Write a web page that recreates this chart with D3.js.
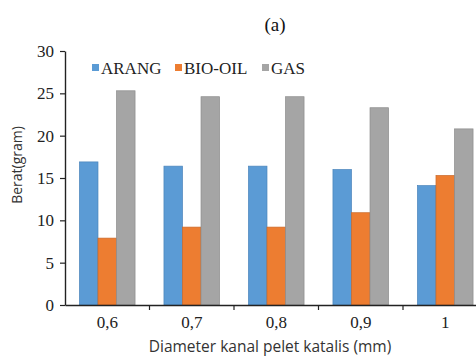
<!DOCTYPE html>
<html>
<head>
<meta charset="utf-8">
<script src="https://cdn.jsdelivr.net/npm/d3@7"></script>
<style>
  body { margin: 0; background: #fff; }
  svg { display: block; }
</style>
</head>
<body>
<script>
const categories = ["0,6", "0,7", "0,8", "0,9", "1"];
const seriesNames = ["ARANG", "BIO-OIL", "GAS"];
const arang = [16.9, 16.4, 16.4, 16.0, 14.1];
const bioOil = [7.9, 9.2, 9.2, 10.9, 15.3];
const gas = [25.3, 24.6, 24.6, 23.3, 20.8];
const yTicks = [0, 5, 10, 15, 20, 25, 30];

const colors = { "ARANG": "#5b9bd5", "BIO-OIL": "#ed7d31", "GAS": "#a5a5a5" };
const strokes = { "ARANG": "#4a84bb", "BIO-OIL": "#c9692a", "GAS": "#8c8c8c" };

const dims = { w: 476, h: 356, left: 65, right: 487.5, top: 51, bottom: 305 };

const svg = d3.select("body")
  .append("svg")
  .attr("width", dims.w)
  .attr("height", dims.h);

const rows = categories.map((c, i) => ({ cat: c, "ARANG": arang[i], "BIO-OIL": bioOil[i], "GAS": gas[i] }));

const x0 = d3.scaleBand().domain(categories).range([dims.left, dims.right]).padding(0);
const x1 = d3.scaleBand().domain(seriesNames).range([0, x0.bandwidth()])
  .paddingInner(0).paddingOuter(0.78);
const y = d3.scaleLinear().domain([0, 30]).range([dims.bottom, dims.top]);

// bars
svg.append("g")
  .selectAll("g")
  .data(rows)
  .enter()
  .append("g")
  .attr("transform", d => `translate(${x0(d.cat)},0)`)
  .selectAll("rect")
  .data(d => seriesNames.map(s => ({ s: s, v: d[s] })))
  .enter()
  .append("rect")
  .attr("x", d => x1(d.s))
  .attr("width", x1.bandwidth())
  .attr("y", d => y(d.v))
  .attr("height", d => y(0) - y(d.v))
  .attr("fill", d => colors[d.s])
  .attr("stroke", d => strokes[d.s])
  .attr("stroke-width", 0.7);

// y axis
const yAxis = svg.append("g")
  .attr("transform", `translate(${dims.left},0)`)
  .call(d3.axisLeft(y).tickValues(yTicks).tickSize(5).tickPadding(6).tickSizeOuter(0));
yAxis.select(".domain").attr("stroke", "#222").attr("stroke-width", 1.4);
yAxis.selectAll(".tick line").attr("stroke", "#222").attr("stroke-width", 1.2);
yAxis.selectAll("text")
  .style("font-family", "'Liberation Serif', 'Times New Roman', serif")
  .attr("font-size", 17)
  .attr("fill", "#222");

// x axis
const xAxis = svg.append("g")
  .attr("transform", `translate(0,${dims.bottom})`)
  .call(d3.axisBottom(x0).tickSize(0).tickPadding(11).tickSizeOuter(0));
xAxis.select(".domain").attr("stroke", "#222").attr("stroke-width", 1.4);
xAxis.selectAll("text")
  .style("font-family", "'Liberation Serif', 'Times New Roman', serif")
  .attr("font-size", 17)
  .attr("fill", "#222");

// tick marks between categories
svg.append("g")
  .selectAll("line")
  .data(categories.slice(1))
  .enter()
  .append("line")
  .attr("x1", d => x0(d))
  .attr("x2", d => x0(d))
  .attr("y1", dims.bottom)
  .attr("y2", dims.bottom + 5)
  .attr("stroke", "#222")
  .attr("stroke-width", 1.2);

// title
svg.append("text")
  .text("(a)")
  .attr("x", 275)
  .attr("y", 31)
  .attr("text-anchor", "middle")
  .style("font-family", "'Liberation Serif', 'Times New Roman', serif")
  .attr("font-size", 19)
  .attr("fill", "#111");

// legend
const legendX = [92, 175, 262];
const legend = svg.append("g").attr("transform", "translate(0,68)");
const li = legend.selectAll("g")
  .data(seriesNames)
  .enter()
  .append("g")
  .attr("transform", (d, i) => `translate(${legendX[i]},0)`);
li.append("rect")
  .attr("x", 0)
  .attr("y", -4)
  .attr("width", 7)
  .attr("height", 7)
  .attr("fill", d => colors[d]);
li.append("text")
  .text(d => d)
  .attr("x", 9)
  .attr("y", 5.5)
  .style("font-family", "'Liberation Serif', 'Times New Roman', serif")
  .attr("font-size", 17)
  .attr("fill", "#222");

// axis titles
svg.append("text")
  .text("Berat(gram)")
  .attr("transform", "translate(22,165) rotate(-90)")
  .attr("text-anchor", "middle")
  .style("font-family", "'Open Sans', sans-serif")
  .attr("font-size", 14)
  .attr("fill", "#333");

svg.append("text")
  .text("Diameter kanal pelet katalis (mm)")
  .attr("x", 270)
  .attr("y", 352)
  .attr("text-anchor", "middle")
  .style("font-family", "'Open Sans', sans-serif")
  .attr("font-size", 15.5)
  .attr("fill", "#333");
</script>
</body>
</html>
